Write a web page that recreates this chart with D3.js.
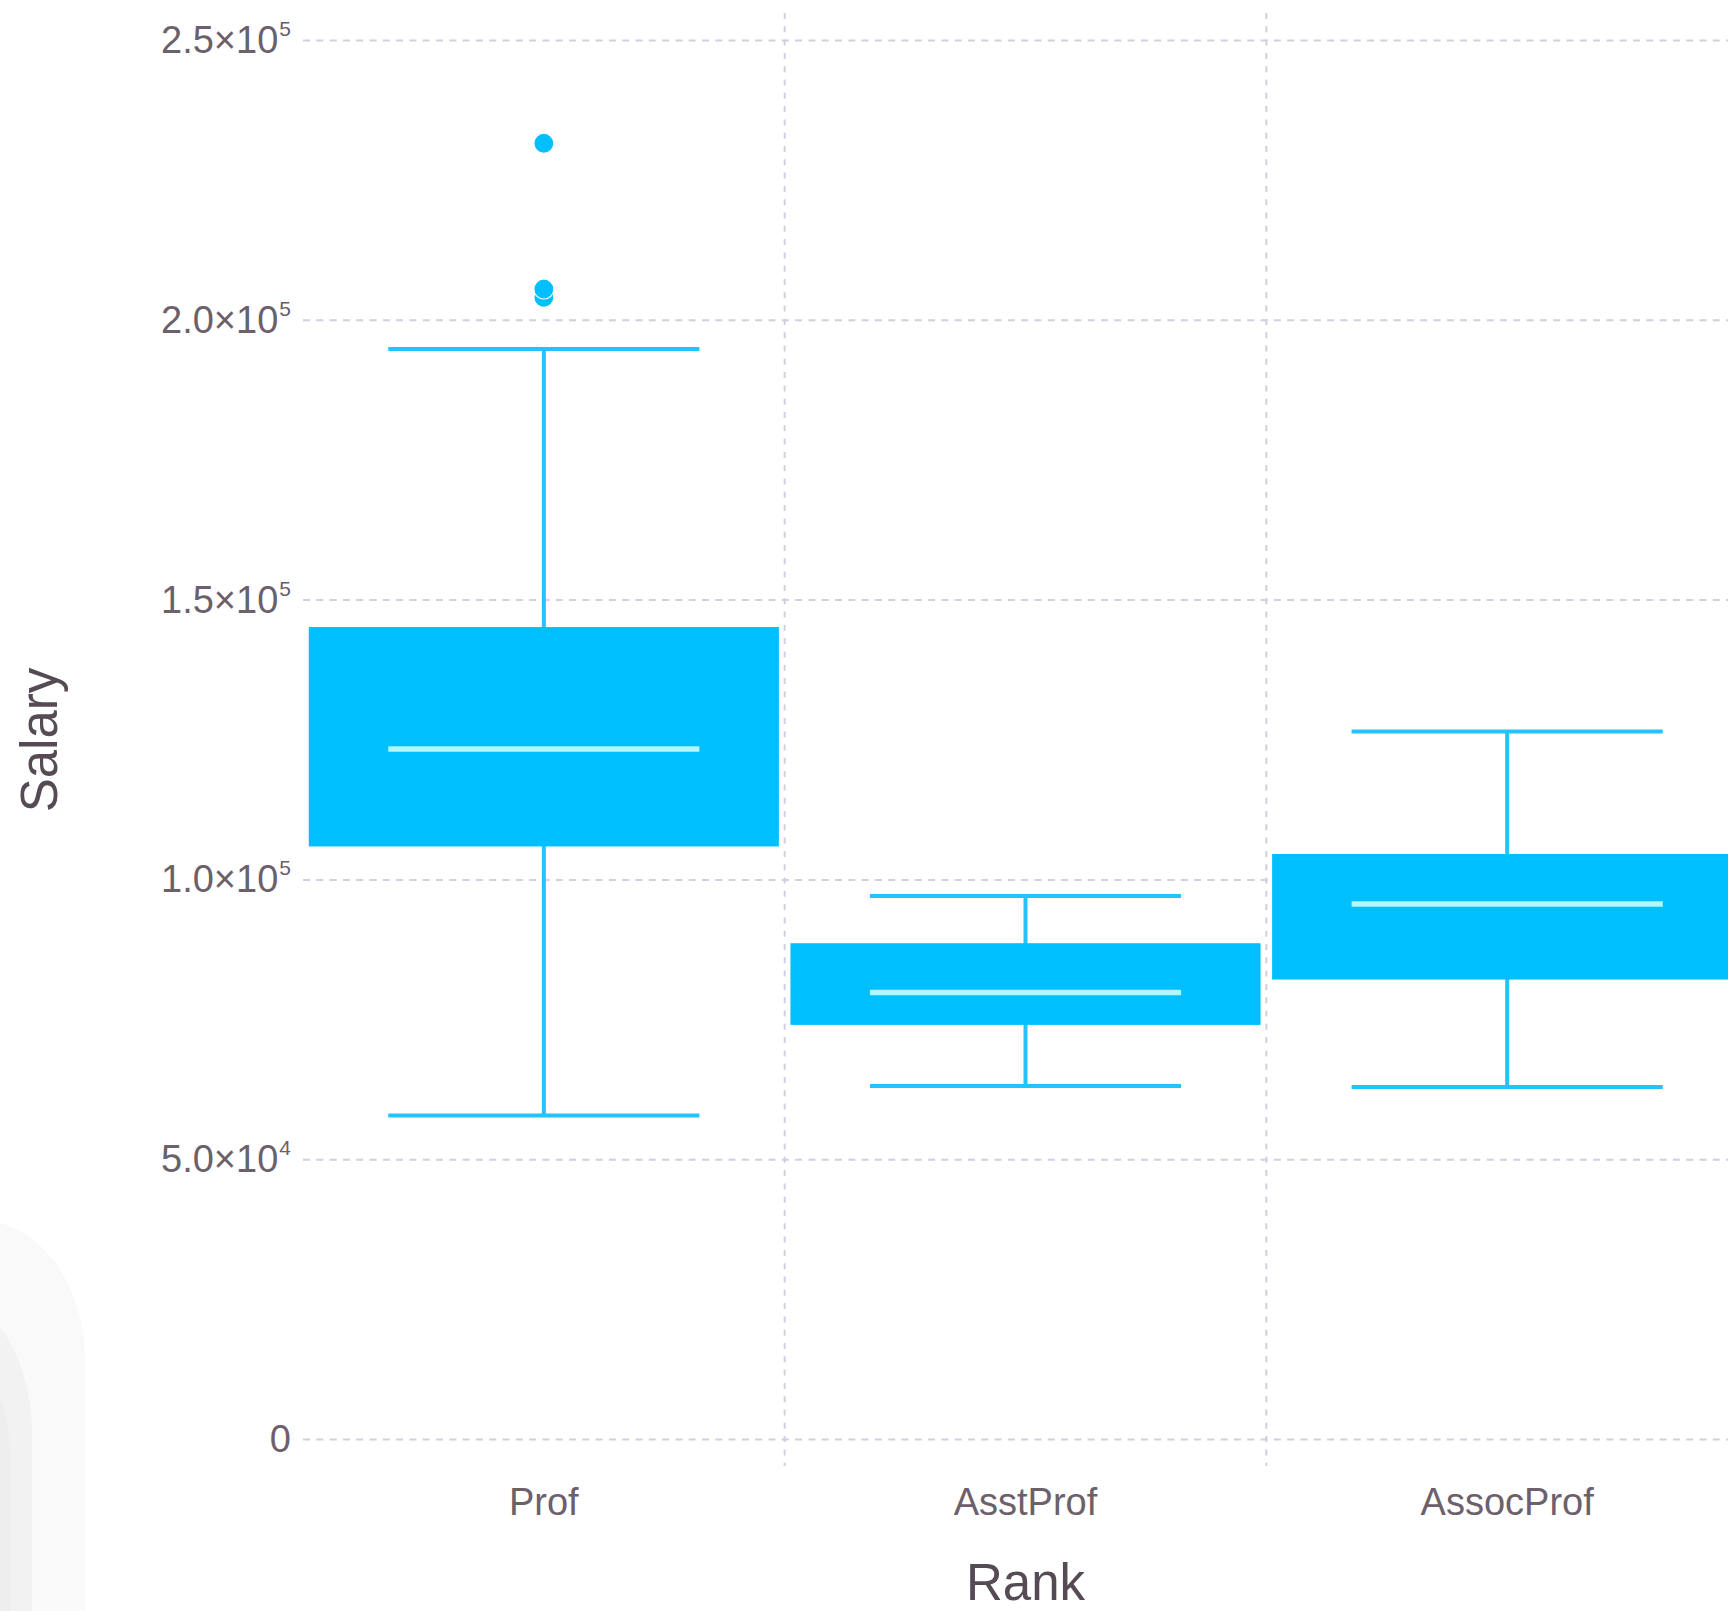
<!DOCTYPE html>
<html>
<head>
<meta charset="utf-8">
<script src="https://cdn.jsdelivr.net/npm/d3@7"></script>
<style>
  html, body { margin: 0; padding: 0; background: #ffffff; }
  svg { display: block; }
  text { font-family: "Liberation Sans", Arial, Helvetica, sans-serif; }
</style>
</head>
<body>
<svg id="chart" width="1728" height="1611"></svg>
<script>
// ---- data ----
const categories = ["Prof", "AsstProf", "AssocProf"];
const lowerWhisker = [57800, 63100, 62884];
const q1 = [105890, 74000, 82100];
const median = [123321.5, 79800, 95626];
const q3 = [145098, 88597, 104542];
const upperWhisker = [194800, 97032, 126431];
const outlierRank = ["Prof", "Prof", "Prof"];
const outlierSalary = [204000, 205500, 231545];

const yTickValues = [0, 50000, 100000, 150000, 200000, 250000];
const yTickMantissa = ["0", "5.0×10", "1.0×10", "1.5×10", "2.0×10", "2.5×10"];
const yTickExponent = ["", "4", "5", "5", "5", "5"];

const xTitle = "Rank";
const yTitle = "Salary";

// ---- layout ----
const svg = d3.select("#chart");
const plotLeft = 303, plotRight = 1748, plotTop = 40, plotBottom = 1439;

// faint background artifact at bottom-left
svg.append("path").attr("d", "M0,1223 C48,1236 85,1290 85,1363 V1611 H0 Z").attr("fill", "#f9f9f9");
svg.append("path").attr("d", "M0,1327 C18,1350 32,1390 32,1433 V1611 H0 Z").attr("fill", "#f2f2f2");
svg.append("path").attr("d", "M0,1400 C6,1410 10,1430 10,1450 V1611 H0 Z").attr("fill", "#eeeeee");

const x = d3.scaleBand().domain(categories).range([plotLeft, plotRight]).paddingInner(0).paddingOuter(0);
const y = d3.scaleLinear().domain([0, 250000]).range([plotBottom, plotTop]);

const gridColor = "#d0d0e0";
const labelColor = "#6c606b";
const titleColor = "#564a55";
const boxColor = "#00bfff";
const whiskerColor = "#22c4ff";
const medianColor = "#b2f6ff";

// horizontal gridlines + y tick labels via axis
const yAxis = d3.axisLeft(y).tickValues(yTickValues).tickSize(-(plotRight - plotLeft)).tickPadding(12).tickFormat("");
const gy = svg.append("g").attr("transform", `translate(${plotLeft},0)`).call(yAxis);
gy.select(".domain").remove();
gy.selectAll(".tick line")
  .attr("stroke", gridColor).attr("stroke-width", 2).attr("stroke-dasharray", "7,6.3");
gy.selectAll(".tick text").remove();
gy.selectAll(".tick").each(function(d) {
  const i = yTickValues.indexOf(d);
  const t = d3.select(this).append("text")
    .attr("x", -12).attr("y", 12.5)
    .attr("text-anchor", "end")
    .attr("fill", labelColor)
    .attr("font-size", 38);
  t.append("tspan").text(yTickMantissa[i]);
  if (yTickExponent[i]) {
    t.append("tspan").attr("font-size", 21).attr("dy", -17).attr("dx", 1).text(yTickExponent[i]);
  }
});

// vertical gridlines at band boundaries
const boundaries = categories.slice(1).map(c => x(c)).concat([plotRight]);
svg.append("g").selectAll("line").data(boundaries).join("line")
  .attr("x1", d => d).attr("x2", d => d)
  .attr("y1", 13).attr("y2", 1466)
  .attr("stroke", gridColor).attr("stroke-width", 2).attr("stroke-dasharray", "6,7.3");

// x axis labels
const xAxis = d3.axisBottom(x).tickSize(0).tickPadding(0);
const gx = svg.append("g").attr("transform", `translate(0,${plotBottom})`).call(xAxis);
gx.select(".domain").remove();
gx.selectAll(".tick text")
  .attr("y", 76).attr("dy", null)
  .attr("fill", labelColor)
  .attr("font-size", 38)
  .attr("font-family", "Liberation Sans, Arial, sans-serif");

// boxes
const bw = x.bandwidth();
const boxW = bw * 0.976;
const capW = bw * 0.646;
const boxes = categories.map((c, i) => ({ c, lo: lowerWhisker[i], q1: q1[i], med: median[i], q3: q3[i], hi: upperWhisker[i] }));
const g = svg.append("g");

g.selectAll(".whisker").data(boxes).join("line").attr("class", "whisker")
  .attr("x1", d => x(d.c) + bw / 2).attr("x2", d => x(d.c) + bw / 2)
  .attr("y1", d => y(d.lo)).attr("y2", d => y(d.hi))
  .attr("stroke", whiskerColor).attr("stroke-width", 4);

g.selectAll(".capLo").data(boxes).join("line").attr("class", "capLo")
  .attr("x1", d => x(d.c) + bw / 2 - capW / 2).attr("x2", d => x(d.c) + bw / 2 + capW / 2)
  .attr("y1", d => y(d.lo)).attr("y2", d => y(d.lo))
  .attr("stroke", whiskerColor).attr("stroke-width", 4);

g.selectAll(".capHi").data(boxes).join("line").attr("class", "capHi")
  .attr("x1", d => x(d.c) + bw / 2 - capW / 2).attr("x2", d => x(d.c) + bw / 2 + capW / 2)
  .attr("y1", d => y(d.hi)).attr("y2", d => y(d.hi))
  .attr("stroke", whiskerColor).attr("stroke-width", 4);

g.selectAll(".box").data(boxes).join("rect").attr("class", "box")
  .attr("x", d => x(d.c) + bw / 2 - boxW / 2)
  .attr("width", boxW)
  .attr("y", d => y(d.q3))
  .attr("height", d => y(d.q1) - y(d.q3))
  .attr("fill", boxColor);

g.selectAll(".median").data(boxes).join("line").attr("class", "median")
  .attr("x1", d => x(d.c) + bw / 2 - capW / 2).attr("x2", d => x(d.c) + bw / 2 + capW / 2)
  .attr("y1", d => y(d.med)).attr("y2", d => y(d.med))
  .attr("stroke", medianColor).attr("stroke-width", 5.5);

// outliers
const outliers = outlierRank.map((r, i) => ({ r, v: outlierSalary[i] }));
g.selectAll(".outlier").data(outliers).join("circle").attr("class", "outlier")
  .attr("cx", d => x(d.r) + bw / 2)
  .attr("cy", d => y(d.v))
  .attr("r", 10)
  .attr("fill", boxColor)
  .attr("stroke", "#ffffff").attr("stroke-width", 1.2);

// axis titles
svg.append("text")
  .attr("x", x(categories[1]) + bw / 2).attr("y", 1600)
  .attr("text-anchor", "middle")
  .attr("fill", titleColor).attr("font-size", 51)
  .text(xTitle);

svg.append("text")
  .attr("transform", `translate(57,740) rotate(-90)`)
  .attr("text-anchor", "middle")
  .attr("fill", titleColor).attr("font-size", 51)
  .text(yTitle);
</script>
</body>
</html>
